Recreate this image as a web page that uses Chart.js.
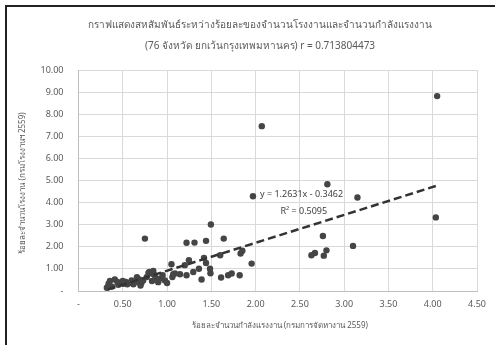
<!DOCTYPE html>
<html>
<head>
<meta charset="utf-8">
<script src="https://cdn.jsdelivr.net/npm/chart.js@4.4.1/dist/chart.umd.min.js"></script>
<style>
  html, body { margin: 0; padding: 0; background: #fff; }
  #wrap { position: relative; width: 495px; height: 345px; }
  #frame { position: absolute; left: 5px; top: 5px; right: -10px; bottom: -10px;
           border-left: 2px solid #222; border-top: 2px solid #222; pointer-events: none; }
  canvas { position: absolute; left: 0; top: 0; }
</style>
</head>
<body>
<div id="wrap">
  <canvas id="chart" width="495" height="345"></canvas>
  <div id="frame"></div>
</div>
<script>
const titleLines = [
  "กราฟแสดงสหสัมพันธ์ระหว่างร้อยละของจำนวนโรงงานและจำนวนกำลังแรงงาน",
  "(76 จังหวัด ยกเว้นกรุงเทพมหานคร) r = 0.713804473",
];
const xTitle = "ร้อยละจำนวนกำลังแรงงาน (กรมการจัดหางาน 2559)";
const yTitle = "ร้อยละจำนวนโรงงาน (กรมโรงงานฯ 2559)";

// labour share (x) vs factory share (y), 76 provinces
const labourPct = [
  4.05, 4.035, 2.07, 2.81, 1.97, 3.15, 2.76, 3.10, 2.80, 2.67, 2.63, 2.77, 1.955,
  1.495, 1.22, 1.31, 1.44, 1.64, 0.75, 1.247, 1.417, 1.44, 1.60, 1.83, 1.85,
  1.05, 1.07, 1.146, 1.22, 1.296, 1.36, 1.39, 1.485, 1.49, 1.61, 1.69, 1.73, 1.82, 1.20,
  0.34, 0.355, 0.41, 0.44, 0.475, 0.505, 0.535, 0.575, 0.60, 0.655, 0.686, 0.71, 0.73,
  0.77, 0.80, 0.826, 0.845, 0.86, 0.88, 0.92, 0.95, 0.976, 1.00, 1.06, 1.09,
  0.32, 0.34, 0.38, 0.45, 0.50, 0.55, 0.62, 0.66, 0.79, 0.70, 0.83, 0.90,
];
const factoryPct = [
  8.82, 3.33, 7.46, 4.83, 4.29, 4.23, 2.49, 2.04, 1.84, 1.72, 1.62, 1.60, 1.24,
  3.01, 2.18, 2.19, 2.27, 2.37, 2.37, 1.39, 1.50, 1.27, 1.62, 1.70, 1.82,
  1.21, 0.76, 0.76, 0.71, 0.86, 1.01, 0.52, 1.01, 0.80, 0.61, 0.71, 0.79, 0.71, 1.17,
  0.33, 0.45, 0.52, 0.41, 0.36, 0.33, 0.41, 0.36, 0.48, 0.41, 0.52, 0.36, 0.48,
  0.63, 0.86, 0.79, 0.91, 0.71, 0.56, 0.56, 0.71, 0.48, 0.36, 0.63, 0.79,
  0.15, 0.25, 0.20, 0.28, 0.45, 0.30, 0.30, 0.63, 0.82, 0.25, 0.45, 0.40,
];

// linear trendline shown in the chart
const trendSlope = 1.2631;
const trendIntercept = -0.3462;
const trendRange = [0.33, 4.05];
const equationText = "y = 1.2631x - 0.3462";
const r2Text = "R² = 0.5095";

const xTicks = [0, 0.5, 1, 1.5, 2, 2.5, 3, 3.5, 4, 4.5];
const yTicks = [0, 1, 2, 3, 4, 5, 6, 7, 8, 9, 10];

const FONT = "'Noto Sans', 'DejaVu Sans', sans-serif";
const fmt = (v) => (v === 0 ? "-" : v.toFixed(2));

const points = labourPct.map((x, i) => ({ x, y: factoryPct[i] }));
const trendPoints = trendRange.map((x) => ({ x, y: trendSlope * x + trendIntercept }));

const labelsPlugin = {
  id: "labels",
  afterDraw(chart) {
    const { ctx, chartArea, scales } = chart;
    ctx.save();
    ctx.fillStyle = "#595959";
    ctx.textAlign = "center";
    ctx.textBaseline = "middle";
    ctx.font = "10px " + FONT;
    ctx.fillText(titleLines[0], 260, 25);
    ctx.fillText(titleLines[1], 260, 46);

    ctx.font = "8px " + FONT;
    ctx.fillText(xTitle, (chartArea.left + chartArea.right) / 2 + 2, 326);
    ctx.translate(23, 183);
    ctx.rotate(-Math.PI / 2);
    ctx.fillText(yTitle, 0, 0);
    ctx.restore();

    ctx.save();
    ctx.fillStyle = "#404040";
    ctx.textAlign = "left";
    ctx.textBaseline = "middle";
    ctx.font = "9px " + FONT;
    ctx.fillText(equationText, scales.x.getPixelForValue(2.05), scales.y.getPixelForValue(4.38));
    ctx.fillText(r2Text, scales.x.getPixelForValue(2.28), scales.y.getPixelForValue(3.61));
    ctx.restore();
  },
};

new Chart(document.getElementById("chart"), {
  type: "scatter",
  data: {
    datasets: [
      {
        label: "data",
        data: points,
        backgroundColor: "#454545",
        borderColor: "#454545",
        pointRadius: 3.2,
        pointBorderWidth: 0,
        order: 2,
      },
      {
        label: "trend",
        type: "line",
        data: trendPoints,
        borderColor: "#333",
        borderWidth: 2.5,
        borderDash: [8, 4],
        pointRadius: 0,
        fill: false,
        order: 1,
      },
    ],
  },
  options: {
    responsive: false,
    animation: false,
    layout: { padding: { left: 10, right: 18, top: 70, bottom: 0 } },
    plugins: { legend: { display: false }, title: { display: false }, tooltip: { enabled: false } },
    scales: {
      x: {
        type: "linear",
        min: 0,
        max: 4.5,
        afterBuildTicks: (s) => { s.ticks = xTicks.map((v) => ({ value: v })); },
        ticks: { callback: fmt, color: "#595959", font: { size: 9, family: FONT }, maxRotation: 0, padding: 8 },
        grid: { color: "#d9d9d9", drawTicks: false },
        border: { color: "#bfbfbf" },
        afterFit: (s) => { s.height = 345 - 291; },
      },
      y: {
        type: "linear",
        min: 0,
        max: 10,
        afterBuildTicks: (s) => { s.ticks = yTicks.map((v) => ({ value: v })); },
        ticks: { callback: fmt, color: "#595959", font: { size: 9, family: FONT }, padding: 15 },
        grid: { color: "#d9d9d9", drawTicks: false },
        border: { color: "#bfbfbf" },
        afterFit: (s) => { s.width = 78.5 - 10; },
      },
    },
  },
  plugins: [labelsPlugin],
});
</script>
</body>
</html>
